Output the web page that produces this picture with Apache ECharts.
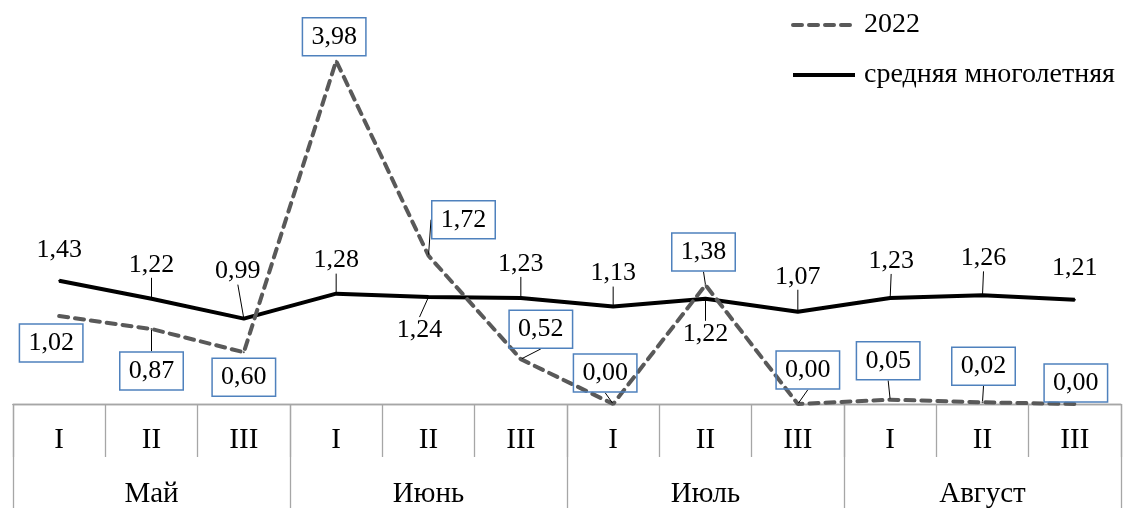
<!DOCTYPE html>
<html>
<head>
<meta charset="utf-8">
<script src="https://cdn.jsdelivr.net/npm/echarts@6/dist/echarts.min.js"></script>
<style>
html,body{margin:0;padding:0;background:#fff;}
#c{width:1129px;height:509px;}
</style>
</head>
<body>
<div id="c"></div>
<script>
// ---- data ----
const decades = ['I','II','III','I','II','III','I','II','III','I','II','III'];
const months = ['Май','Июнь','Июль','Август'];
const values2022 = [1.02, 0.87, 0.60, 3.98, 1.72, 0.52, 0.00, 1.38, 0.00, 0.05, 0.02, 0.00];
const valuesMean = [1.43, 1.22, 0.99, 1.28, 1.24, 1.23, 1.13, 1.22, 1.07, 1.23, 1.26, 1.21];
const seriesNames = ['2022', 'средняя многолетняя'];

// ---- label placement (layout only) ----
const off2022 = [[-8,27],[0,42],[0,25],[-2,-24],[35,-36],[20,-30],[-8,-31],[-2,-33],[10,-34],[-2,-39],[1,-36],[1,-21]];
const offMean = [[0,-31],[0,-34],[-6,-47],[0,-33],[-9,33],[0,-34],[0,-33],[0,35],[0,-35],[1,-37],[1,-37],[0,-31]];
const line2022 = [false,true,false,false,true,true,true,true,true,true,true,false];
const lineMean = [false,true,true,true,true,true,true,true,true,true,true,false];

const fmt = v => v.toFixed(2).replace('.', ',');
const FONT = 'Liberation Serif';

function items(vals, flags) {
  return vals.map((v, i) => ({ value: v, labelLine: { show: flags[i] } }));
}

const chart = echarts.init(document.getElementById('c'), null, { renderer: 'canvas' });
chart.setOption({
  backgroundColor: '#fff',
  animation: false,
  textStyle: { fontFamily: FONT },
  grid: { left: 13, right: 8, top: 16, bottom: 104, containLabel: false },
  legend: {
    orient: 'vertical',
    left: 791, top: 11, padding: 0,
    itemWidth: 62, itemHeight: 28, itemGap: 22,
    itemStyle: { opacity: 0 },
    lineStyle: { width: 4 },
    textStyle: { fontFamily: FONT, fontSize: 28, color: '#000', padding: [0, 0, 0, 4] },
    data: seriesNames
  },
  xAxis: [
    {
      type: 'category', data: decades, boundaryGap: true, position: 'bottom',
      axisLine: { show: true, lineStyle: { color: '#a6a6a6', width: 1.3 } },
      axisTick: { show: true, interval: 0, length: 53, lineStyle: { color: '#a6a6a6', width: 1.3 } },
      axisLabel: { interval: 0, margin: 22, fontFamily: FONT, fontSize: 29, color: '#000' },
      splitLine: { show: false }
    },
    {
      type: 'category', data: months, boundaryGap: true, position: 'bottom',
      axisLine: { show: true, lineStyle: { color: '#a6a6a6', width: 1.3 } },
      axisTick: { show: true, interval: 0, length: 104, lineStyle: { color: '#a6a6a6', width: 1.3 } },
      axisLabel: { interval: 0, margin: 76, fontFamily: FONT, fontSize: 29, color: '#000' },
      splitLine: { show: false }
    }
  ],
  yAxis: { type: 'value', min: 0, max: 4.5, show: false, splitLine: { show: false } },
  series: [
    {
      name: seriesNames[0], type: 'line', xAxisIndex: 0,
      data: items(values2022, line2022),
      symbol: 'circle', symbolSize: 2, showSymbol: true,
      itemStyle: { color: '#595959' },
      lineStyle: { color: '#595959', width: 4, type: [9, 7], cap: 'round' },
      z: 3,
      label: {
        show: true, position: 'inside', formatter: p => fmt(p.value),
        fontFamily: FONT, fontSize: 26, color: '#000',
        borderColor: '#4F81BD', borderWidth: 1.5, padding: [7, 9, 5, 9]
      },
      labelLine: { show: true, lineStyle: { color: '#000', width: 1 } },
      labelLayout: p => ({ dx: off2022[p.dataIndex][0], dy: off2022[p.dataIndex][1] })
    },
    {
      name: seriesNames[1], type: 'line', xAxisIndex: 0,
      data: items(valuesMean, lineMean),
      symbol: 'circle', symbolSize: 2, showSymbol: true,
      itemStyle: { color: '#000' },
      lineStyle: { color: '#000', width: 4 },
      z: 2,
      label: {
        show: true, position: 'inside', formatter: p => fmt(p.value),
        fontFamily: FONT, fontSize: 26, color: '#000'
      },
      labelLine: { show: true, lineStyle: { color: '#000', width: 1 } },
      labelLayout: p => ({ dx: offMean[p.dataIndex][0], dy: offMean[p.dataIndex][1] })
    }
  ]
});
</script>
</body>
</html>
